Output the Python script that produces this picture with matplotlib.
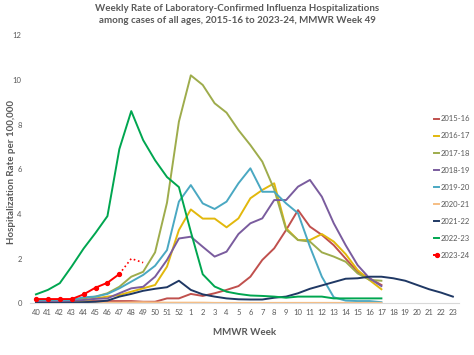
import matplotlib
matplotlib.use('Agg')
import matplotlib.pyplot as plt

# MMWR weeks on the x axis (season runs week 40 -> week 23)
weeks = [str(w) for w in list(range(40, 53)) + list(range(1, 24))]

# weekly hospitalization rates per 100,000
s2015_16 = [0.1, 0.1, 0.1, 0.1, 0.1, 0.1, 0.1, 0.1, 0.1, 0.07, 0.07, 0.22, 0.22,
            0.42, 0.33, 0.45, 0.6, 0.77, 1.19, 1.94, 2.46, 3.28, 4.17, 3.43, 3.06,
            2.6, 2.0, 1.41, 1.12, 0.82]
s2016_17 = [0.05, 0.05, 0.05, 0.05, 0.1, 0.22, 0.3, 0.37, 0.52, 0.67, 0.82, 1.64, 3.28,
            4.2, 3.79, 3.79, 3.4, 3.8, 4.7, 5.07, 5.37, 3.36, 2.83, 2.83, 3.1,
            2.76, 2.2, 1.49, 1.04, 0.63]
s2017_18 = [0.1, 0.1, 0.12, 0.15, 0.22, 0.3, 0.45, 0.74, 1.19, 1.41, 2.28, 4.5, 8.13,
            10.2, 9.77, 8.95, 8.53, 7.75, 7.08, 6.34, 5.1, 3.3, 2.83, 2.76, 2.28,
            2.09, 1.86, 1.34, 1.05, 1.01]
s2018_19 = [0.1, 0.1, 0.1, 0.1, 0.15, 0.2, 0.22, 0.45, 0.67, 0.74, 1.19, 1.94, 2.9,
            2.98, 2.53, 2.09, 2.31, 3.1, 3.58, 3.8, 4.62, 4.62, 5.22, 5.52, 4.77,
            3.58, 2.6, 1.71, 1.12, 0.77]
s2019_20 = [0.15, 0.15, 0.15, 0.15, 0.27, 0.3, 0.42, 0.67, 0.97, 1.27, 1.68, 2.38, 4.55,
            5.29, 4.47, 4.22, 4.55, 5.37, 6.04, 4.99, 4.99, 4.47, 4.03, 2.53, 1.19,
            0.27, 0.12, 0.1, 0.1, 0.05]
s2020_21 = [0.02, 0.02, 0.02, 0.02, 0.02, 0.03, 0.03, 0.03, 0.04, 0.05, 0.04, 0.03, 0.03,
            0.03, 0.03, 0.02, 0.02, 0.02, 0.02, 0.02, 0.02, 0.02, 0.02, 0.02, 0.02,
            0.02, 0.02, 0.02, 0.02, 0.02]
s2021_22 = [0.02, 0.02, 0.02, 0.03, 0.05, 0.07, 0.12, 0.3, 0.42, 0.56, 0.65, 0.72, 1.01,
            0.6, 0.4, 0.3, 0.22, 0.18, 0.17, 0.17, 0.25, 0.3, 0.45, 0.65, 0.8,
            0.95, 1.1, 1.12, 1.19, 1.19, 1.12, 1.01, 0.82, 0.63, 0.48, 0.3]
s2022_23 = [0.4, 0.6, 0.9, 1.65, 2.45, 3.15, 3.9, 6.9, 8.6, 7.3, 6.4, 5.65, 5.2,
            3.2, 1.3, 0.75, 0.52, 0.42, 0.35, 0.33, 0.3, 0.25, 0.3, 0.3, 0.3,
            0.22, 0.22, 0.22, 0.22, 0.22]
s2023_24 = [0.19, 0.19, 0.19, 0.19, 0.4, 0.7, 0.92, 1.31]
# preliminary weeks 47-49, drawn dotted
s2023_24_prelim = [1.31, 2.0, 1.82]

grey = '#595959'
plt.rcParams['font.family'] = ['Lato', 'DejaVu Sans']

fig = plt.figure(figsize=(4.74, 3.55), dpi=100)
ax = fig.add_axes([0.0633, 0.1456, 0.9047, 0.7555])

series = [
    ('2015-16', s2015_16, '#c0504d'),
    ('2016-17', s2016_17, '#e2b80c'),
    ('2017-18', s2017_18, '#9eac4c'),
    ('2018-19', s2018_19, '#7a5c9e'),
    ('2019-20', s2019_20, '#4aa8c2'),
    ('2020-21', s2020_21, '#f6be84'),
    ('2021-22', s2021_22, '#1f3864'),
    ('2022-23', s2022_23, '#00a650'),
]
for label, vals, color in series:
    ax.plot(range(len(vals)), vals, color=color, lw=1.4, label=label)

ax.plot(range(len(s2023_24)), s2023_24, color='#ff0000', lw=1.4,
        marker='o', markersize=2.8, label='2023-24')
start = len(s2023_24) - 1
ax.plot(range(start, start + len(s2023_24_prelim)), s2023_24_prelim,
        color='#ff0000', lw=1.2, linestyle=':')

ax.set_xlim(-0.5, len(weeks) - 0.5)
ax.set_ylim(0, 12)
ax.set_xticks(range(len(weeks)))
ax.set_xticklabels(weeks)
ax.set_yticks(range(0, 13, 2))
ax.tick_params(axis='both', length=0, labelsize=5.5, colors=grey)
ax.tick_params(axis='y', pad=6)
ax.tick_params(axis='x', pad=4)
for side in ['top', 'right', 'left']:
    ax.spines[side].set_visible(False)
ax.spines['bottom'].set_color('#d9d9d9')
ax.spines['bottom'].set_linewidth(0.8)

ax.set_xlabel('MMWR Week', fontsize=7, fontweight='bold', color=grey, labelpad=9)
ax.set_ylabel('Hospitalization Rate per 100,000', fontsize=7, fontweight='bold',
              color=grey)
ax.yaxis.set_label_coords(-0.032, 0.49)

fig.suptitle('Weekly Rate of Laboratory-Confirmed Influenza Hospitalizations\n'
             'among cases of all ages, 2015-16 to 2023-24, MMWR Week 49',
             fontsize=7.0, fontweight='bold', color=grey, y=0.99, linespacing=1.45)

leg = ax.legend(loc='upper left', bbox_to_anchor=(0.935, 0.712), frameon=False,
                fontsize=5.5, handlelength=0.7, handletextpad=0.2,
                labelspacing=1.32, borderaxespad=0)
for t in leg.get_texts():
    t.set_color(grey)

fig.savefig('out.png', dpi=100)
